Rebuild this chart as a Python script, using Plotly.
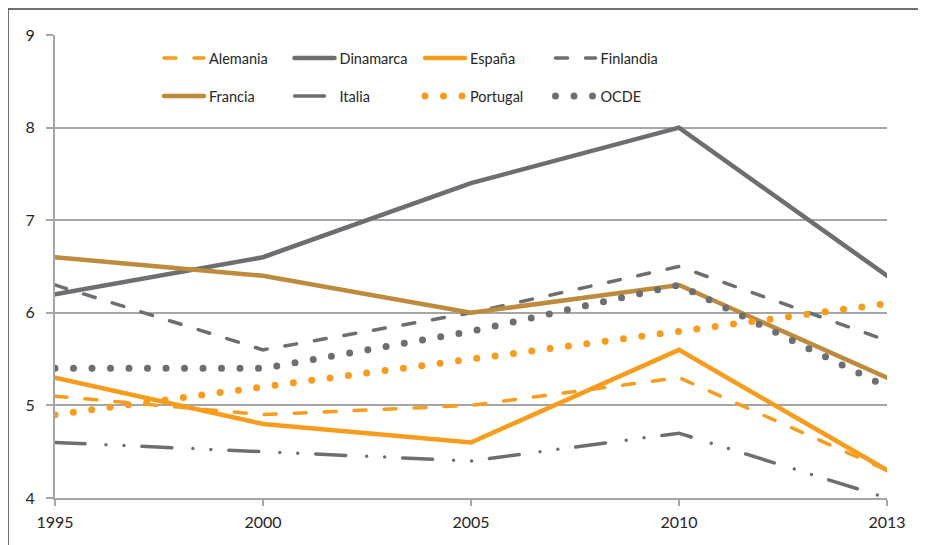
import plotly.graph_objects as go

years = ["1995", "2000", "2005", "2010", "2013"]
alemania = [5.1, 4.9, 5.0, 5.3, 4.3]
dinamarca = [6.2, 6.6, 7.4, 8.0, 6.4]
espana = [5.3, 4.8, 4.6, 5.6, 4.3]
finlandia = [6.3, 5.6, 6.0, 6.5, 5.7]
francia = [6.6, 6.4, 6.0, 6.3, 5.3]
italia = [4.6, 4.5, 4.4, 4.7, 4.0]
portugal = [4.9, 5.2, 5.5, 5.8, 6.1]
ocde = [5.4, 5.4, 5.8, 6.3, 5.2]
y_ticks = [4, 5, 6, 7, 8, 9]

ORANGE = "#F89C1E"
GRAY = "#6D6E71"
BROWN = "#BE8A3C"
FONT = "Lato"

xpos = list(range(len(years)))

series = [
    ("Alemania", alemania, ORANGE, 3.5, "12px,18px", "legend"),
    ("Dinamarca", dinamarca, GRAY, 4.5, "solid", "legend"),
    ("España", espana, ORANGE, 4.5, "solid", "legend"),
    ("Finlandia", finlandia, GRAY, 3.5, "12px,18px", "legend"),
    ("Francia", francia, BROWN, 4.5, "solid", "legend2"),
    ("Italia", italia, GRAY, 3.5, "30px,21px,0px,18px,0px,18px", "legend2"),
    ("Portugal", portugal, ORANGE, 7, "0px,18.5px", "legend2"),
    ("OCDE", ocde, GRAY, 7, "0px,18.5px", "legend2"),
]

fig = go.Figure()
for name, vals, color, w, dash, lg in series:
    fig.add_trace(go.Scatter(
        x=xpos, y=vals, name=name, mode="lines",
        line=dict(color=color, width=w, dash=dash),
        legend=lg,
    ))

legend_common = dict(
    orientation="h", xanchor="left", yanchor="middle",
    font=dict(family=FONT, size=14.5, color="#262626"),
    bgcolor="rgba(0,0,0,0)", entrywidth=75.5, entrywidthmode="pixels",
    itemwidth=40, traceorder="normal",
)

fig.update_layout(
    width=918, height=537,
    margin=dict(l=47, r=39, t=27, b=47),
    paper_bgcolor="white", plot_bgcolor="white",
    font=dict(family=FONT, color="#262626"),
    showlegend=True,
    legend=dict(x=0.125, y=0.950, **legend_common),
    legend2=dict(x=0.125, y=0.868, **legend_common),
    xaxis=dict(
        range=[0, len(years) - 1], tickvals=xpos, ticktext=years,
        showgrid=False, showline=True, linecolor="#A6A6A6", linewidth=2,
        ticks="outside", ticklen=6, tickcolor="#A6A6A6", tickwidth=2,
        tickfont=dict(family=FONT, size=16, color="#262626"),
        zeroline=False, fixedrange=True, ticklabelstandoff=3,
    ),
    yaxis=dict(
        range=[4, 9], tickvals=y_ticks,
        showgrid=True, gridcolor="#A6A6A6", gridwidth=2,
        showline=True, linecolor="#A6A6A6", linewidth=2,
        ticks="outside", ticklen=7, tickcolor="#A6A6A6", tickwidth=2,
        tickfont=dict(family=FONT, size=16, color="#262626"),
        zeroline=False, fixedrange=True, ticklabelstandoff=8,
    ),
)

# outer chart border (top and left edges visible)
fig.add_shape(type="line", xref="paper", yref="paper",
              x0=-0.0565, x1=1.06, y0=1.056, y1=1.056,
              line=dict(color="#404040", width=1.5))
fig.add_shape(type="line", xref="paper", yref="paper",
              x0=-0.0565, x1=-0.0565, y0=1.056, y1=-0.11,
              line=dict(color="#404040", width=1.5))

post = ("var s=document.createElement('style');"
        "s.textContent='path.js-line{stroke-linecap:round !important;}';"
        "document.head.appendChild(s);")
fig.write_html("out.html", post_script=post)
